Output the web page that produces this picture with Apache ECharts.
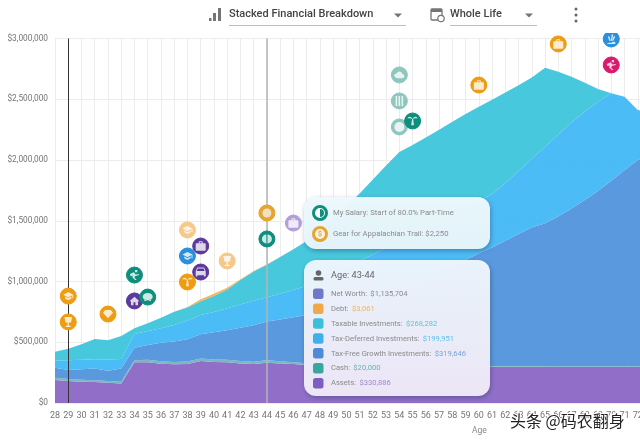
<!DOCTYPE html>
<html>
<head>
<meta charset="utf-8">
<title>Stacked Financial Breakdown</title>
<script src="https://cdn.jsdelivr.net/npm/echarts@6/dist/echarts.min.js"></script>
<style>
html, body { margin: 0; padding: 0; background: #fff; overflow: hidden; }
#chart { width: 640px; height: 442px; }
</style>
</head>
<body>
<div id="chart"></div>
<script>
// ages on the x axis, 73 only runs off the right edge of the window
var ages = ["28","29","30","31","32","33","34","35","36","37","38","39","40","41","42","43","44","45","46","47","48","49","50","51","52","53","54","55","56","57","58","59","60","61","62","63","64","65","66","67","68","69","70","71","72","73"];

// stacked values, in dollars, bottom to top
var assets = [190000,181000,175000,173000,167000,160000,335000,335000,323000,318000,322000,346000,337000,335000,325000,320000,330886,325000,320000,313000,312000,310000,308000,307000,306000,305000,304000,303000,302000,302000,301000,300000,300000,299000,299000,298000,298000,298000,297000,297000,297000,296000,296000,296000,296000,296000];
var cash = [18000,16000,16000,15000,15000,14000,16000,20000,20000,20000,20000,20000,20000,20000,20000,20000,20000,18000,16000,14000,12000,10000,8000,6000,6000,6000,6000,6000,6000,6000,6000,6000,6000,6000,6000,6000,6000,6000,6000,6000,6000,6000,6000,6000,6000,6000];
var taxFree = [83000,75000,86000,95000,84000,109000,104000,122000,153000,169000,182000,199000,225000,243000,275000,299000,319646,345000,370000,397000,426000,460000,496000,532000,568000,606000,645000,684000,725000,767000,813000,872000,924000,975000,1030000,1086000,1141000,1176000,1232000,1297000,1367000,1443000,1528000,1613000,1698000,1714000];
var taxDeferred = [59000,80000,78000,77000,92000,79000,113000,116000,119000,135000,156000,160000,168000,182000,190000,203000,199951,212000,224000,241000,260000,280000,303000,325000,342000,360000,377000,394000,408000,421000,430000,427000,430000,440000,475000,520000,565000,630000,675000,710000,730000,735000,719000,606000,411000,370000];
var taxable = [72000,95000,128000,167000,158000,189000,47000,63000,87000,109000,107000,113000,130000,154000,203000,241000,268282,301000,335000,368000,430000,470000,505000,555000,618000,678000,733000,736000,744000,754000,765000,773000,779000,775000,745000,705000,670000,650000,517000,376000,236000,104000,0,0,0,0];
var debt = [0,0,0,0,0,0,0,0,0,0,3000,15000,20000,15000,5000,3000,3061,0,0,0,0,0,0,0,0,0,0,0,0,0,0,0,0,0,0,0,0,0,0,0,0,0,0,0,0,0];

// life events shown as round badges above the stack
var eventAges = ["29","29","32","34","34","35","38","38","38","39","39","41","44","44","46","54","54","54","55","60","66","70","70"];
var eventValues = [880000,667000,732000,1053000,840000,872000,1424000,1210000,996000,1292000,1078000,1169000,1564000,1350000,1481000,2700000,2486000,2272000,2321000,2617000,2955000,2996000,2782000];
var eventKinds = ["grad","gift","gem","sport","home","piggy","gradOld","degree","beach","bag","car","giftOld","gear","salary","bagOld","noteOld","stripeOld","ringOld","palm","med","med","water","sport2"];

// hover card text
var cardEvents = ["My Salary: Start of 80.0% Part-Time", "Gear for Appalachian Trail: $2,250"];
var cardTitle = "Age: 43-44";
var cardNames = ["Net Worth", "Debt", "Taxable Investments", "Tax-Deferred Investments", "Tax-Free Growth Investments", "Cash", "Assets"];
var cardValues = ["$1,135,704", "$3,061", "$268,282", "$199,951", "$319,646", "$20,000", "$330,886"];

var COLORS = {
    assets: "#8a66c6", cash: "#6fb4bd", taxFree: "#5093dc",
    taxDeferred: "#41b8f5", taxable: "#3cc5db", debt: "#f2b04e"
};
var SWATCH = ["#6f78c8", "#f0a94a", "#3cc0d8", "#3fb0ec", "#5089d8", "#3aa79f", "#7e5fbf"];
var VALUE_COLOR = ["#8a8a9a", "#eeb468", "#5cc6d6", "#5cc0ea", "#7ba3d8", "#5fb8b0", "#a08ac8"];

var ORANGE = "#ee9c11", TEAL = "#0e8f7e", PURPLE = "#5c3a9c", BLUE = "#2a8fdc", PINK = "#d81b6c";
var ORANGE_OLD = "#f4c98a", TEAL_OLD = "#8fc7bf", PURPLE_OLD = "#b49ddb";

var P = {
    school: "M5 13.18v4L12 21l7-3.82v-4L12 17l-7-3.82zM12 3L1 9l11 6 9-4.91V17h2V9L12 3z",
    home: "M10 20v-6h4v6h5v-8h3L12 3 2 12h3v8z",
    car: "M18.92 6.01C18.72 5.42 18.16 5 17.5 5h-11c-.66 0-1.21.42-1.42 1.01L3 12v8c0 .55.45 1 1 1h1c.55 0 1-.45 1-1v-1h12v1c0 .55.45 1 1 1h1c.55 0 1-.45 1-1v-8l-2.08-5.99zM5 11l1.5-4.5h11L19 11H5z",
    bag: "M20 6h-4V4c0-1.11-.89-2-2-2h-4c-1.11 0-2 .89-2 2v2H4c-1.11 0-2 .89-2 2v11c0 1.11.89 2 2 2h16c1.11 0 2-.89 2-2V8c0-1.11-.89-2-2-2zm-6 0h-4V4h4v2z",
    gem: "M7 5h10l4 5-9 10L3 10z",
    cup: "M6 4h12l-1.5 9H13v5h3v2H8v-2h3v-5H7.5z",
    piggy: "M3 13a9 6.5 0 1 0 18 0a9 6.5 0 1 0-18 0zM6 18h3v3H6zM15 18h3v3h-3z",
    palm: "M11 10h2l1.5 11h-5zM12 10C9 4 4 5 3 9c3-1 6-1 9 1zm0 0c3-6 8-5 9-1-3-1-6-1-9 1z",
    sport: "M13 3h4v4h-4zM4 10l7-3 3 4 6-1v2l-7 2-1 3 4 4h-3l-5-5 1-3-4 1z",
    stripes: "M6 4h2.5v16H6zM10.7 4h2.5v16h-2.5zM15.5 4H18v16h-2.5z",
    cloud: "M4 15a4 4 0 0 1 3-7 6 6 0 0 1 11 1 4 4 0 0 1-1 8H7z",
    dot: "M7 12a5 5 0 1 0 10 0a5 5 0 1 0-10 0z",
    split: "M11 4a8 8 0 0 0 0 16zM13 4a8 8 0 0 1 0 16z",
    water: "M6 18c3-2 4 0 6-1s3-2 6-1v3H6zM13 4l2 1-2 9h-2zM7 8l2-1 2 7H9zM18 8l-3 6h-2l3-7z"
};

// badge look for each event kind
var KIND = {
    grad: {color: ORANGE, glyph: P.school}, gift: {color: ORANGE, glyph: P.cup},
    gem: {color: ORANGE, glyph: P.gem}, sport: {color: TEAL, glyph: P.sport},
    home: {color: PURPLE, glyph: P.home}, piggy: {color: TEAL, glyph: P.piggy},
    gradOld: {color: ORANGE_OLD, glyph: P.school}, degree: {color: BLUE, glyph: P.school},
    beach: {color: ORANGE, glyph: P.palm}, bag: {color: PURPLE, glyph: P.bag},
    car: {color: PURPLE, glyph: P.car}, giftOld: {color: ORANGE_OLD, glyph: P.cup},
    gear: {color: "#e5a52f", glyph: P.dot, inner: "#f5f0e6", size: 9}, salary: {color: TEAL, glyph: P.split, inner: "#fff", size: 10},
    bagOld: {color: PURPLE_OLD, glyph: P.bag}, noteOld: {color: TEAL_OLD, glyph: P.cloud},
    stripeOld: {color: TEAL_OLD, glyph: P.stripes}, ringOld: {color: TEAL_OLD, glyph: P.dot},
    palm: {color: TEAL, glyph: P.palm}, med: {color: ORANGE, glyph: P.bag},
    water: {color: BLUE, glyph: P.water}, sport2: {color: PINK, glyph: P.sport}
};

var FONT = "Roboto";

function areaSeries(name, values, color) {
    return {
        name: name, type: "line", stack: "total", data: values,
        symbol: "none", lineStyle: {width: 0}, z: 2,
        areaStyle: {color: color, opacity: 0.94}
    };
}

function badgeSeries() {
    var rims = [], glyphs = [];
    for (var i = 0; i < eventAges.length; i++) {
        var k = KIND[eventKinds[i]];
        rims.push({value: [eventAges[i], eventValues[i]], itemStyle: {color: k.color, borderColor: k.color, borderWidth: 1, opacity: 1}});
        glyphs.push({value: [eventAges[i], eventValues[i]], symbol: "path://" + k.glyph, symbolSize: k.size || 10, itemStyle: {color: k.inner || "#fff"}});
    }
    return [
        {type: "scatter", data: rims, symbol: "circle", symbolSize: 16, z: 5, clip: false, silent: true},
        {type: "scatter", data: glyphs, symbolKeepAspect: true, z: 6, clip: false, silent: true}
    ];
}

function box(x, y, w, h, color, r) {
    return {type: "rect", z: 60, shape: {x: x, y: y, width: w, height: h, r: r || 0}, style: {fill: color}};
}

function label(text, x, y, size, color, z, weight) {
    return {type: "text", x: x, y: y, z: z || 60, style: {text: text, fontFamily: FONT, fontSize: size, fill: color, fontWeight: weight || 400, verticalAlign: "middle"}};
}

function card(x, y, w, h, top, bottom) {
    return {
        type: "rect", z: 55, shape: {x: x, y: y, width: w, height: h, r: 12},
        style: {
            fill: {type: "linear", x: 0, y: 0, x2: 0, y2: 1, colorStops: [{offset: 0, color: top}, {offset: 1, color: bottom}]},
            shadowBlur: 5, shadowColor: "rgba(30,50,90,0.4)", shadowOffsetX: 1, shadowOffsetY: 2
        }
    };
}

function headerAndCards() {
    var g = [];
    // clips badges at the top, same as the app header
    g.push({type: "rect", z: 50, shape: {x: 0, y: 0, width: 640, height: 33}, style: {fill: "#fff"}});

    // chart type picker
    g.push(box(209, 18, 2.5, 3, "#757575"));
    g.push(box(213, 13, 3, 8, "#757575"));
    g.push(box(218, 8, 3, 13, "#757575"));
    g.push(label("Stacked Financial Breakdown", 229, 14.5, 11, "#444", 60, 500));
    g.push(box(229, 25, 177, 1, "#bdbdbd"));
    g.push({type: "polygon", z: 60, shape: {points: [[394, 13.5], [402, 13.5], [398, 17.5]]}, style: {fill: "#757575"}});

    // time range picker
    g.push({type: "rect", z: 60, shape: {x: 431, y: 9, width: 11, height: 11, r: 1}, style: {fill: "#fff", stroke: "#757575", lineWidth: 1.3}});
    g.push(box(431, 9, 11, 3, "#757575"));
    g.push({type: "circle", z: 61, shape: {cx: 441, cy: 18.5, r: 3.2}, style: {fill: "#fff", stroke: "#757575", lineWidth: 1.2}});
    g.push(label("Whole Life", 450, 14.5, 11, "#444", 60, 500));
    g.push(box(450, 25, 87, 1, "#bdbdbd"));
    g.push({type: "polygon", z: 60, shape: {points: [[525, 13.5], [533, 13.5], [529, 17.5]]}, style: {fill: "#757575"}});

    // more menu
    [9, 15, 21].forEach(function (y) {
        g.push({type: "circle", z: 60, shape: {cx: 576, cy: y, r: 1.5}, style: {fill: "#666"}});
    });

    // event card
    g.push(card(304, 197, 186, 52, "rgba(238,250,253,0.97)", "rgba(232,246,252,0.97)"));
    g.push({type: "circle", z: 60, shape: {cx: 320, cy: 213, r: 6.5}, style: {fill: "#fff", stroke: TEAL, lineWidth: 3}});
    g.push({type: "sector", z: 61, shape: {cx: 320, cy: 213, r: 4, r0: 0, startAngle: -Math.PI / 2, endAngle: Math.PI / 2}, style: {fill: TEAL}});
    g.push({type: "circle", z: 60, shape: {cx: 320, cy: 234, r: 6.5}, style: {fill: "#fbf3e2", stroke: "#e5a52f", lineWidth: 3}});
    g.push(label("$", 318, 234.5, 7, "#c98a1c"));
    g.push(label(cardEvents[0], 333, 213.5, 7.7, "#8a8a8a"));
    g.push(label(cardEvents[1], 333, 234.5, 7.7, "#8a8a8a"));

    // values card
    g.push(card(304, 260, 186, 136, "rgba(238,247,254,0.97)", "rgba(241,234,248,0.97)"));
    g.push({type: "circle", z: 60, shape: {cx: 318.5, cy: 273, r: 2.8}, style: {fill: "#666"}});
    g.push(box(313.5, 277, 10, 3.5, "#666", 1.5));
    g.push(label(cardTitle, 331, 275.5, 9.2, "#666", 60, 400));
    for (var i = 0; i < cardNames.length; i++) {
        var y = 293.5 + i * 14.9;
        g.push(box(313, y - 5, 10.5, 10.5, SWATCH[i], 2.5));
        g.push({
            type: "text", x: 331, y: y + 0.5, z: 60,
            style: {
                text: "{n|" + cardNames[i] + ":} {v|" + cardValues[i] + "}",
                verticalAlign: "middle",
                rich: {
                    n: {fontFamily: FONT, fontSize: 7.6, fill: "#8a8a8a", color: "#8a8a8a"},
                    v: {fontFamily: FONT, fontSize: 7.6, fill: VALUE_COLOR[i], color: VALUE_COLOR[i]}
                }
            }
        });
    }

    // axis title sits under age 60 in the app
    g.push(label("Age", 472, 431, 8.5, "#888"));

    // watermark from the screenshot
    g.push({
        type: "text", x: 510, y: 421, z: 70,
        style: {text: "头条 @码农翻身", fontFamily: "Noto Sans CJK SC", fontSize: 16, fill: "#222", stroke: "#fff", lineWidth: 2, verticalAlign: "middle"}
    });
    return g;
}

var chart = echarts.init(document.getElementById("chart"));

var option = {
    animation: false,
    backgroundColor: "#fff",
    grid: {left: 55, right: -11, top: 38.5, bottom: 39, outerBoundsMode: "none"},
    xAxis: {
        type: "category", data: ages, boundaryGap: false,
        axisLine: {show: false}, axisTick: {show: false},
        axisLabel: {interval: 0, color: "#757575", fontFamily: FONT, fontSize: 9, margin: 8, hideOverlap: false},
        splitLine: {show: true, interval: 0, lineStyle: {color: "#ececec", width: 1}}
    },
    yAxis: {
        type: "value", min: 0, max: 3000000, interval: 500000,
        axisLine: {show: false}, axisTick: {show: false},
        axisLabel: {
            color: "#757575", fontFamily: FONT, fontSize: 8.3, margin: 7,
            formatter: function (v) { return "$" + v.toLocaleString("en-US"); }
        },
        splitLine: {lineStyle: {color: "#ececec", width: 1}}
    },
    series: [
        areaSeries("Assets", assets, COLORS.assets),
        areaSeries("Cash", cash, COLORS.cash),
        areaSeries("Tax-Free Growth Investments", taxFree, COLORS.taxFree),
        areaSeries("Tax-Deferred Investments", taxDeferred, COLORS.taxDeferred),
        areaSeries("Taxable Investments", taxable, COLORS.taxable),
        areaSeries("Debt", debt, COLORS.debt),
        {
            // today line and hovered age line
            type: "line", data: [], z: 4, silent: true,
            markLine: {
                silent: true, symbol: "none", animation: false, label: {show: false},
                data: [
                    {xAxis: "29", lineStyle: {color: "#333", width: 1, type: "solid"}},
                    {xAxis: "44", lineStyle: {color: "#b4b4b4", width: 1.5, type: "solid"}}
                ]
            }
        }
    ].concat(badgeSeries()),
    graphic: {elements: headerAndCards()}
};

chart.setOption(option);
</script>
</body>
</html>
